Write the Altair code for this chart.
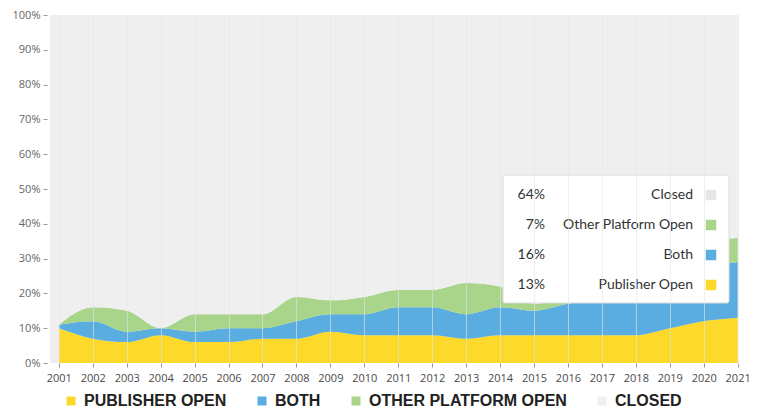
import altair as alt
import pandas as pd

years = list(range(2001, 2022))
publisher_open = [10, 7, 6, 8, 6, 6, 7, 7, 9, 8, 8, 8, 7, 8, 8, 8, 8, 8, 10, 12, 13]
both = [1, 5, 3, 2, 3, 4, 3, 5, 5, 6, 8, 8, 7, 8, 7, 9, 10, 10, 12, 15, 16]
other_platform_open = [0, 4, 6, 0, 5, 4, 4, 7, 4, 5, 5, 5, 9, 6, 2, 2, 2, 3, 5, 7, 7]
closed = [100 - p - b - o for p, b, o in zip(publisher_open, both, other_platform_open)]

series_names = ["Publisher Open", "Both", "Other Platform Open", "Closed"]
series_values = [publisher_open, both, other_platform_open, closed]
series_colors = ["#fcd92a", "#5aade0", "#a8d58a", "#efefef"]
box_colors = ["#fcd92a", "#5aade0", "#a8d58a", "#e6e6e6"]

rows = []
for order, (name, vals) in enumerate(zip(series_names, series_values)):
    for y, v in zip(years, vals):
        rows.append({"year": y, "series": name, "value": v, "ord": order})
df = pd.DataFrame(rows)

x_scale = alt.Scale(domain=[2000.74, 2021.01], nice=False, zero=False)

area = alt.Chart(df).mark_area(interpolate="monotone").encode(
    x=alt.X("year:Q", scale=x_scale, title=None,
            axis=alt.Axis(values=years, format="d", labelFontSize=11, labelColor="#4a4a4a",
                          labelFont="Open Sans", tickColor="#999", tickSize=4, domain=False,
                          labelPadding=5, grid=True, gridColor="#e4e4e4", gridOpacity=0.6,
                          zindex=1, labelFlush=False)),
    y=alt.Y("value:Q", stack="zero", scale=alt.Scale(domain=[0, 100], nice=False),
            title=None,
            axis=alt.Axis(values=list(range(0, 101, 10)), labelExpr="datum.value + '%'",
                          labelFontSize=11, labelColor="#666", labelFont="Open Sans",
                          tickColor="#999", tickSize=4, domain=False, grid=False,
                          offset=3, labelPadding=3)),
    color=alt.Color("series:N", sort=series_names,
                    scale=alt.Scale(domain=series_names, range=series_colors),
                    legend=alt.Legend(orient="none", legendX=13, legendY=378,
                                      direction="horizontal", columns=4, title=None,
                                      symbolType="square", symbolSize=81,
                                      symbolStrokeWidth=0, labelExpr="upper(datum.label)",
                                      labelFont="Liberation Sans", labelFontWeight="bold",
                                      labelFontSize=16, labelColor="#222", labelLimit=0,
                                      labelOffset=5, columnPadding=27)),
    order=alt.Order("ord:Q", sort="ascending"),
)

# Hover box showing the latest year's shares
latest = {name: vals[-1] for name, vals in zip(series_names, series_values)}
box_df = pd.DataFrame([{"k": 1}])
box = alt.Chart(box_df).mark_rect(fill="white", stroke="#dcdcdc", strokeWidth=1,
                                  cornerRadius=2).encode(
    x=alt.value(453), x2=alt.value(679), y=alt.value(160), y2=alt.value(288))

layers = [area, box]
box_order = ["Closed", "Other Platform Open", "Both", "Publisher Open"]
for i, name in enumerate(box_order):
    color = box_colors[series_names.index(name)]
    rdf = pd.DataFrame([{"pct": f"{latest[name]}%", "name": name}])
    ypos = 180 + 30 * i
    layers.append(alt.Chart(rdf).mark_text(align="right", baseline="middle", font="Lato",
                                           fontSize=14, color="#333").encode(
        x=alt.value(495), y=alt.value(ypos), text="pct:N"))
    layers.append(alt.Chart(rdf).mark_text(align="right", baseline="middle", font="Lato",
                                           fontSize=14, color="#333").encode(
        x=alt.value(643), y=alt.value(ypos), text="name:N"))
    layers.append(alt.Chart(rdf).mark_square(size=110, opacity=1, color=color).encode(
        x=alt.value(661), y=alt.value(ypos)))

chart = alt.layer(*layers).properties(
    width=688, height=348,
    padding={"left": 42, "top": 7, "right": 13, "bottom": 46},
    autosize=alt.AutoSizeParams(type="none"),
).configure_view(stroke=None, fill="#efefef").configure_axis(tickWidth=1)

chart.save("out.html", embed_options={"renderer": "svg", "actions": False})
